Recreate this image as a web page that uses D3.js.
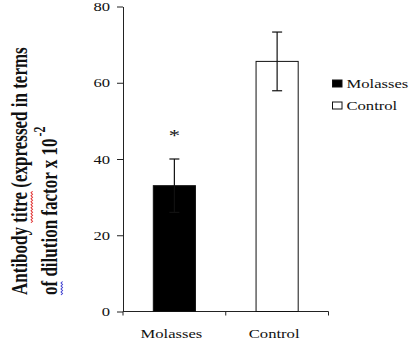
<!DOCTYPE html>
<html>
<head>
<meta charset="utf-8">
<script src="https://cdn.jsdelivr.net/npm/d3@7"></script>
<style>
  body { margin: 0; background: #fff; }
  svg { display: block; }
  text { font-family: "Liberation Serif", "Times New Roman", serif; fill: #111; }
</style>
</head>
<body>
<div id="chart"></div>
<script>
// data
const groups = ["Molasses", "Control"];
const means = [33, 65.6];
const errors = [7, 7.7];
const marks = ["*", ""];
const fills = ["#000", "#fff"];
const yTicks = [0, 20, 40, 60, 80];

// the original image is stretched sideways, so text is too
const sx = 1.33;

const width = 413, height = 344;
const plotLeft = 123, plotRight = 328.5, plotTop = 6.5, plotBottom = 311.5;

const svg = d3.select("#chart").append("svg")
    .attr("width", width)
    .attr("height", height);

const y = d3.scaleLinear().domain([0, 80]).range([plotBottom, plotTop]);

const x = d3.scaleBand()
    .domain(groups)
    .range([plotLeft, plotRight])
    .paddingInner(0.59)
    .paddingOuter(0.295);

// y axis
const yAxis = svg.append("g")
    .attr("transform", "translate(" + plotLeft + ",0)")
    .call(d3.axisLeft(y).tickValues(yTicks).tickSize(6).tickSizeOuter(0));
yAxis.attr("font-family", null);
yAxis.select(".domain").attr("stroke", "#222");
yAxis.selectAll(".tick line").attr("stroke", "#222");
yAxis.selectAll(".tick text")
    .attr("x", 0)
    .attr("font-size", 12.5)
    .attr("transform", "translate(-13,0) scale(" + sx + ",1)");

// x axis : ticks sit between the bars
svg.append("line")
    .attr("x1", plotLeft).attr("x2", plotRight)
    .attr("y1", plotBottom).attr("y2", plotBottom)
    .attr("stroke", "#222");

svg.selectAll(".xtick")
    .data(d3.range(groups.length + 1))
    .join("line")
    .attr("class", "xtick")
    .attr("x1", i => x.range()[0] + i * x.step())
    .attr("x2", i => x.range()[0] + i * x.step())
    .attr("y1", plotBottom).attr("y2", plotBottom + 4)
    .attr("stroke", "#222");

svg.selectAll(".xlabel")
    .data(groups)
    .join("text")
    .attr("class", "xlabel")
    .attr("text-anchor", "middle")
    .attr("font-size", 12.5)
    .attr("transform", d => "translate(" + (x(d) + x.bandwidth() / 2 - 3) + "," + (plotBottom + 26.5) + ") scale(" + sx + ",1)")
    .text(d => d);

// bars
svg.selectAll(".bar")
    .data(groups)
    .join("rect")
    .attr("class", "bar")
    .attr("x", d => x(d))
    .attr("y", (d, i) => y(means[i]))
    .attr("width", x.bandwidth())
    .attr("height", (d, i) => y(0) - y(means[i]))
    .attr("fill", (d, i) => fills[i])
    .attr("stroke", "#111")
    .attr("stroke-width", 1);

// error bars
const err = svg.selectAll(".err")
    .data(groups)
    .join("g")
    .attr("class", "err")
    .attr("stroke", "#111")
    .attr("stroke-width", 1.2);

err.append("line")
    .attr("x1", d => x(d) + x.bandwidth() / 2)
    .attr("x2", d => x(d) + x.bandwidth() / 2)
    .attr("y1", (d, i) => y(means[i] - errors[i]))
    .attr("y2", (d, i) => y(means[i] + errors[i]));

err.append("line")
    .attr("x1", d => x(d) + x.bandwidth() / 2 - 5)
    .attr("x2", d => x(d) + x.bandwidth() / 2 + 5)
    .attr("y1", (d, i) => y(means[i] + errors[i]))
    .attr("y2", (d, i) => y(means[i] + errors[i]));

err.append("line")
    .attr("x1", d => x(d) + x.bandwidth() / 2 - 5)
    .attr("x2", d => x(d) + x.bandwidth() / 2 + 5)
    .attr("y1", (d, i) => y(means[i] - errors[i]))
    .attr("y2", (d, i) => y(means[i] - errors[i]));

// significance star
svg.selectAll(".mark")
    .data(groups)
    .join("text")
    .attr("class", "mark")
    .attr("text-anchor", "middle")
    .attr("font-size", 17)
    .attr("transform", (d, i) => "translate(" + (x(d) + x.bandwidth() / 2) + "," + (y(means[i] + errors[i]) - 18) + ") scale(" + sx + ",1)")
    .text((d, i) => marks[i]);

// legend
const legend = svg.selectAll(".legend")
    .data(groups)
    .join("g")
    .attr("class", "legend")
    .attr("transform", (d, i) => "translate(332.5," + (80 + i * 22) + ")");

legend.append("rect")
    .attr("width", 9.5).attr("height", 7)
    .attr("fill", (d, i) => fills[i])
    .attr("stroke", "#111")
    .attr("stroke-width", 1);

legend.append("text")
    .attr("font-size", 12.5)
    .attr("transform", "translate(14,8.3) scale(" + sx + ",1)")
    .text(d => d);

// y title, two lines, bold, with the word processor's spell-check squiggles
const title = svg.append("g")
    .attr("font-weight", "bold")
    .attr("font-size", 17);

function squiggle(g, textNode, x0, len, color) {
    const pts = [];
    for (let i = 0; i <= Math.round(len / 1.5); i++) {
        pts.push([x0 + i * 1.5, 3 + (i % 2 ? 1.2 : 0)]);
    }
    g.append("path")
        .attr("d", d3.line()(pts))
        .attr("fill", "none")
        .attr("stroke", color)
        .attr("stroke-width", 0.8);
}

const g1 = title.append("g")
    .attr("transform", "translate(27,295) scale(" + sx + ",1) rotate(-90)");
const t1 = g1.append("text");
const s1a = t1.append("tspan").text("Antibody ");
const s1b = t1.append("tspan").text("titre");
t1.append("tspan").text(" (expressed in terms");
squiggle(g1, t1, s1a.node().getComputedTextLength(), s1b.node().getComputedTextLength(), "#e03030");

const g2 = title.append("g")
    .attr("transform", "translate(57,295) scale(" + sx + ",1) rotate(-90)");
const t2 = g2.append("text");
const s2a = t2.append("tspan").text("of");
t2.append("tspan").text(" dilution factor x 10");
t2.append("tspan").attr("dy", "-0.75em").attr("dx", 2).attr("font-size", 12).text("-2");
squiggle(g2, t2, 0, s2a.node().getComputedTextLength(), "#4040d0");
</script>
</body>
</html>
